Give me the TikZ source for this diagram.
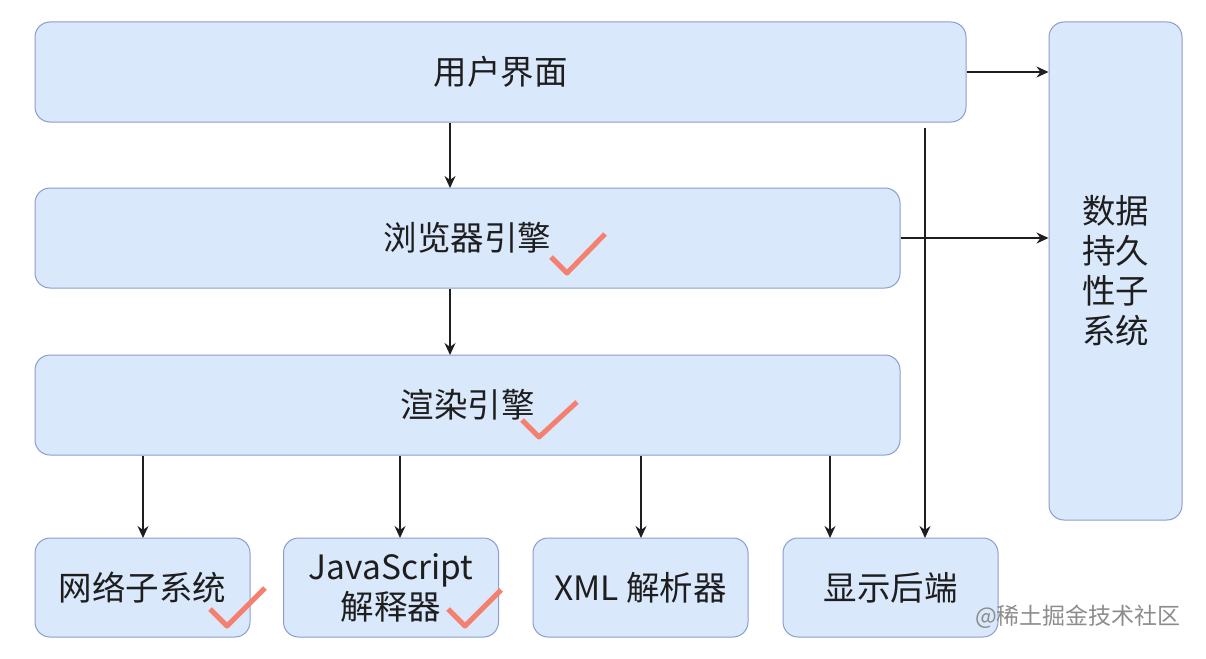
\documentclass[tikz,border=0pt]{standalone}
\usepackage{fontspec}
\setmainfont{Noto Sans CJK SC}
\usetikzlibrary{arrows.meta}
\definecolor{boxfill}{HTML}{DAE8FC}
\definecolor{boxline}{HTML}{8A9DCF}
\definecolor{tick}{HTML}{F4806F}
\definecolor{ink}{HTML}{1E1E1E}

\begin{document}
\begin{tikzpicture}[
    x=1pt, y=-1pt,
    box/.style={draw=boxline, fill=boxfill, line width=1pt, rounded corners=15pt,
        text=ink, align=center, font=\fontsize{33.5}{40}\selectfont},
    arrow/.style={draw=ink, line width=1.4pt, -{Stealth[length=12pt, width=11pt]}},
    check/.style={draw=tick, line width=5pt, line join=round},
]
\useasboundingbox (0,0) rectangle (1206,658);

% Top rows: interface and engines
\node[box, minimum width=931pt, minimum height=100pt] (ui) at (500.5, 72) {用户界面};
\node[box, minimum width=865pt, minimum height=100pt] (browser) at (467.5, 238) {浏览器引擎};
\node[box, minimum width=865pt, minimum height=100pt] (render) at (467.5, 405) {渲染引擎};

% Right column: persistence
\node[box, minimum width=133pt, minimum height=498pt] (store) at (1115.5, 271) {数据\\持久\\性子\\系统};

% Bottom row: subsystems
\node[box, minimum width=215pt, minimum height=99pt] (net) at (142.5, 587.5) {网络子系统};
\node[box, minimum width=215pt, minimum height=99pt] (js) at (391, 587.5) {JavaScript\\解释器};
\node[box, minimum width=215pt, minimum height=99pt] (xml) at (640.5, 587.5) {XML 解析器};
\node[box, minimum width=215pt, minimum height=99pt] (disp) at (890.5, 587.5) {显示后端};

% Arrow end points
\coordinate (browser in) at (450, 188);
\coordinate (render in) at (450, 355);
\coordinate (net in) at (143, 538);
\coordinate (js in) at (400, 538);
\coordinate (xml in) at (641, 538);
\coordinate (disp in) at (830, 538);
\coordinate (disp in2) at (925, 538);
\coordinate (ui out) at (925, 128);

% Connectors
\draw[arrow] (ui.south -| browser in) -- (browser in);
\draw[arrow] (browser.south -| render in) -- (render in);
\foreach \n in {net, js, xml, disp}
    \draw[arrow] (render.south -| \n\space in) -- (\n\space in);
\draw[arrow] (ui out) -- (disp in2);
\draw[arrow] (ui.east) -- (ui.east -| store.west);
\draw[arrow] (browser.east) -- (browser.east -| store.west);

% Ticks
\draw[check] (551, 257) -- (567, 273) -- (605, 234);
\draw[check] (522, 420) -- (539, 437) -- (577, 402);
\draw[check] (210, 609) -- (227, 626) -- (265, 588);
\draw[check] (448, 609) -- (465, 626) -- (501, 590);

% Watermark
\node[text=black!45, font=\fontsize{23}{23}\selectfont] (mark) at (1078, 617) {@稀土掘金技术社区};

\end{tikzpicture}
\end{document}
